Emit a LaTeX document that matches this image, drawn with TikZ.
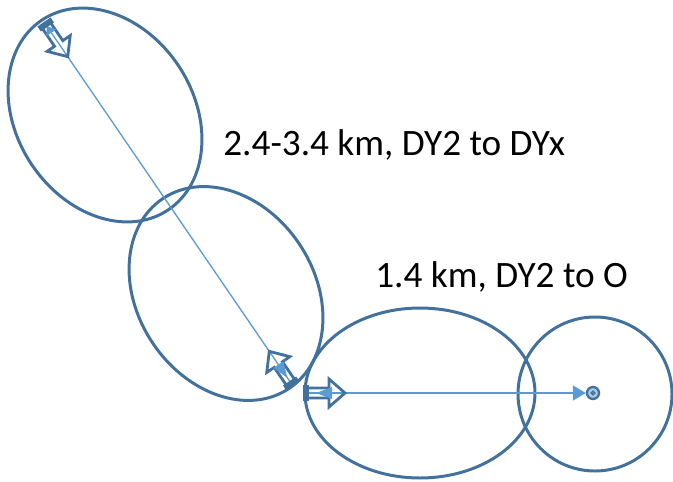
\documentclass[tikz,border=0pt]{standalone}
\usepackage{fontspec}
\setmainfont{Carlito}
\usepackage{tikz}
\usetikzlibrary{arrows.meta,positioning}
\definecolor{rim}{HTML}{41719C}
\definecolor{beam}{HTML}{5B9BD5}

\newcommand{\beamend}[4]{%
\begin{scope}[shift={(#1)},rotate=#2]
\draw[hollow] (4,-5) -- (26,-5) -- (26,-14) -- (42,0) -- (26,14) -- (26,5) -- (4,5) -- cycle;
\fill[beam] (#3,0) -- (#4,-6) -- (#4,6) -- cycle;
\fill[rim] (0,-8) rectangle (6,8);
\end{scope}}

\begin{document}
\begin{tikzpicture}
[x=0.02cm,y=-0.02cm,
zone/.style={draw=rim,line width=1.7pt},
ray/.style={draw=beam,line width=0.75pt},
hollow/.style={draw=rim,line width=1.6pt,line join=miter},
lbl/.style={font=\fontsize{21.2}{25}\selectfont,anchor=base west,inner sep=0pt}]

\useasboundingbox (0,0) rectangle (673,481);

\draw[zone,rotate around={-56.6:(105,115)}] (105,115) ellipse (114 and 88.5);
\draw[zone,rotate around={-56.6:(226,293.5)}] (226,293.5) ellipse (114 and 88.5);
\draw[zone] (420,393) ellipse (115 and 85);
\draw[zone] (595,394) circle (77);

\node[lbl] (far) at (223,155) {2.4-3.4 km, DY2 to DYx};
\node[lbl] (near) at (375,287) {1.4 km, DY2 to O};

\coordinate (dyx) at (44,22);
\coordinate (dy2) at (293,386);
\coordinate (dy2o) at (303,393);

\node[circle,draw=rim,line width=1.3pt,fill=beam!50,minimum size=0.24cm,inner sep=0pt] (o) at (593,393) {};
\node[circle,draw=rim,line width=0.9pt,fill=white,minimum size=0.07cm,inner sep=0pt] (oc) at (o) {};

\draw[ray] (dyx) -- (dy2);
\draw[ray,-{Triangle[length=0.26cm,width=0.3cm]}] (dy2o) -- (o);

\beamend{dyx}{-55.6}{5}{13}
\beamend{dy2}{124.4}{10}{26}
\beamend{dy2o}{0}{13}{29}
\end{tikzpicture}
\end{document}
